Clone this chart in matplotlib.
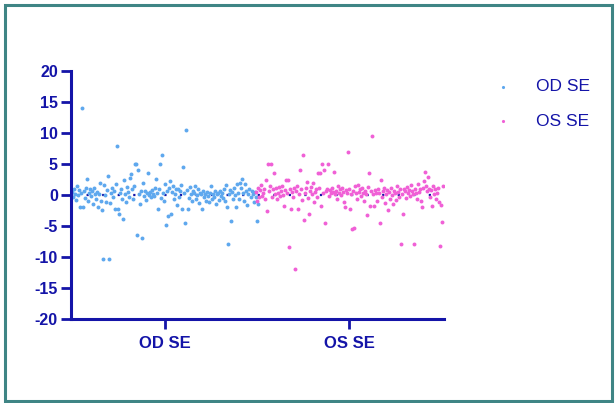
import numpy as np
import matplotlib
matplotlib.use('Agg')
import matplotlib.pyplot as plt
from matplotlib.patches import Rectangle

plt.rcParams.update({'font.family': ['Liberation Sans', 'DejaVu Sans'],
                     'axes.unicode_minus': False})

navy = '#1414a8'
blue = '#5ea8ee'
pink = '#f060d6'

groups = ['OD SE', 'OS SE']

od_se = [
    0.5, -0.3, 1.0, 0.2, -0.8, 1.5, 0.0, 0.8, -1.9, 0.3,
    14.0, -2.0, 0.6, -0.5, 1.2, 2.6, -1.0, 0.4, 0.9, -0.2,
    0.7, -1.4, 1.1, 0.1, -0.6, 0.5, -2.0, 0.2, 2.0, -0.9,
    -2.4, -10.4, 1.6, 0.0, -1.2, 0.8, 3.0, -10.4, -1.3, 0.3,
    1.2, -0.4, 0.6, -2.2, 1.8, 7.95, -2.2, -3.0, 0.4, 1.0,
    -0.7, -3.9, 2.4, 0.2, -1.1, 1.3, 0.5, -0.3, 2.8, 3.4,
    0.9, -0.6, 1.5, 5.0, 5.0, -6.45, 4.0, 0.1, -1.5, 0.7,
    -7.0, 1.9, -0.2, 0.6, -0.8, 0.3, 3.5, 0.0, 0.5, -0.4,
    0.8, 0.2, -0.1, 1.1, 2.6, 0.4, -2.2, 0.9, 5.0, -0.5,
    6.45, 0.3, -1.0, 1.7, -4.9, 0.6, -3.4, 1.2, 2.2, -3.0,
    0.5, 1.4, -0.7, 0.2, 0.9, -1.6, 1.0, -0.3, 0.6, 1.6,
    -2.2, 4.5, 0.4, -4.5, 10.5, 0.8, -2.2, -0.5, 1.3, 0.1,
    -1.0, 0.7, 0.3, 1.5, -0.6, 0.0, 0.9, -1.3, 0.4, 0.2,
    -2.2, 0.6, -0.4, 0.1, -0.9, 0.5, -0.2, -1.1, 0.3, 1.4,
    -0.6, 0.2, -0.3, 0.7, -1.4, 0.1, 0.4, -0.8, 0.6, -0.1,
    0.3, -0.5, 0.9, -1.0, 1.6, -2.0, -7.96, 0.2, 0.8, -4.2,
    0.5, -0.7, 1.2, 0.0, -2.0, 1.8, 0.4, -0.6, 2.0, 1.1,
    2.6, 0.3, -0.9, 1.7, 0.6, -1.6, 0.2, 1.0, -0.4, 0.7,
    0.1, -1.2, 0.5, -0.3, -4.2, -1.5,
]

os_se = [
    0.5, -1.0, 1.2, -0.4, 0.8, 1.6, -0.2, 0.3, 1.0, -0.7,
    2.5, -2.5, 5.0, 0.6, 1.4, 5.0, -0.3, 0.9, 3.5, 0.2,
    1.1, -0.6, 0.4, 1.3, -0.1, 0.7, 1.5, 0.0, -1.8, 0.8,
    2.5, 0.3, 2.5, -8.4, 1.0, -2.2, 0.5, -0.4, 1.2, -12.0,
    0.6, 1.4, -2.2, 0.2, 4.0, 0.9, -0.8, 6.5, -4.0, 0.4,
    1.1, 2.15, -0.5, -3.0, 0.7, 1.3, 0.1, 2.0, -1.1, 0.5,
    0.9, -0.3, 3.5, 1.2, 3.5, -1.8, 5.0, 0.4, 4.0, -4.5,
    0.6, 1.0, 5.0, -0.2, 0.8, 0.3, 1.1, 0.5, 3.76, 0.2,
    0.7, -0.6, 1.4, 0.3, 0.9, 0.0, 1.2, 0.5, -1.2, -2.0,
    0.8, 0.4, 7.0, 1.0, -2.2, 0.2, -5.5, 0.6, -5.3, 1.5,
    0.3, -0.7, 1.6, 0.5, 0.9, -0.2, 1.1, 0.4, -1.0, 0.7,
    0.2, -3.2, 1.3, 3.5, -1.7, 0.6, 9.5, 0.1, -1.8, 0.8,
    0.4, -0.9, 1.0, 0.3, -4.5, 2.5, -0.4, 0.6, 1.2, -1.3,
    0.2, 0.8, -2.4, 0.5, -0.6, 1.1, 0.0, -1.5, 0.7, 0.3,
    -0.8, 1.4, 0.5, -0.3, 0.9, -7.96, 0.2, -3.0, 1.0, 0.6,
    -0.5, 1.3, 0.4, 0.8, -0.2, 1.6, 0.6, 0.1, -7.96, 1.0,
    0.3, -0.7, 1.8, 0.5, 0.9, -1.0, -2.0, 1.2, 2.2, 3.76,
    1.4, 0.6, 2.96, 1.0, -0.4, 0.8, -1.8, 1.5, 0.2, 0.9,
    -0.6, 0.4, 1.1, -1.2, -8.2, -1.6, -4.4, 1.4,
]

x_od = np.arange(len(od_se))
x_os = np.arange(len(os_se)) + len(od_se) - 3

fig = plt.figure(figsize=(6.16, 4.03), dpi=100)
ax = fig.add_axes([0.1153, 0.2084, 0.6055, 0.6154])

ax.axhline(0, color=navy, lw=1.6, ls=(0, (1, 6)), zorder=1)
ax.scatter(x_od, od_se, s=8, color=blue, lw=0, zorder=2, label='OD SE')
ax.scatter(x_os, os_se, s=8, color=pink, lw=0, zorder=2, label='OS SE')

ax.set_ylim(-20, 20)
ax.set_yticks(np.arange(-20, 21, 5))
ax.set_xlim(-1, x_os[-1] + 1)
ax.set_xticks([x_od.mean(), x_os.mean()])
ax.set_xticklabels(groups)

for s in ['top', 'right']:
    ax.spines[s].set_visible(False)
for s in ['left', 'bottom']:
    ax.spines[s].set_color(navy)
    ax.spines[s].set_linewidth(2.2)
ax.tick_params(colors=navy, width=2.0, length=7.5, pad=2)
ax.tick_params(axis='x', pad=5)
for t in ax.get_yticklabels():
    t.set_fontweight('bold'); t.set_fontsize(11.5); t.set_color(navy)
for t in ax.get_xticklabels():
    t.set_fontweight('bold'); t.set_fontsize(12); t.set_color(navy)

leg = ax.legend(loc='upper left', bbox_to_anchor=(1.07, 1.03), frameon=False,
                fontsize=12.5, markerscale=0.8, handletextpad=0.9, labelspacing=1.1)
for t in leg.get_texts():
    t.set_color(navy)

fig.patches.append(Rectangle((0.008, 0.004), 0.986, 0.984, transform=fig.transFigure,
                             fill=False, edgecolor='#3f8585', lw=2.2))

fig.savefig('out.png', dpi=100)
